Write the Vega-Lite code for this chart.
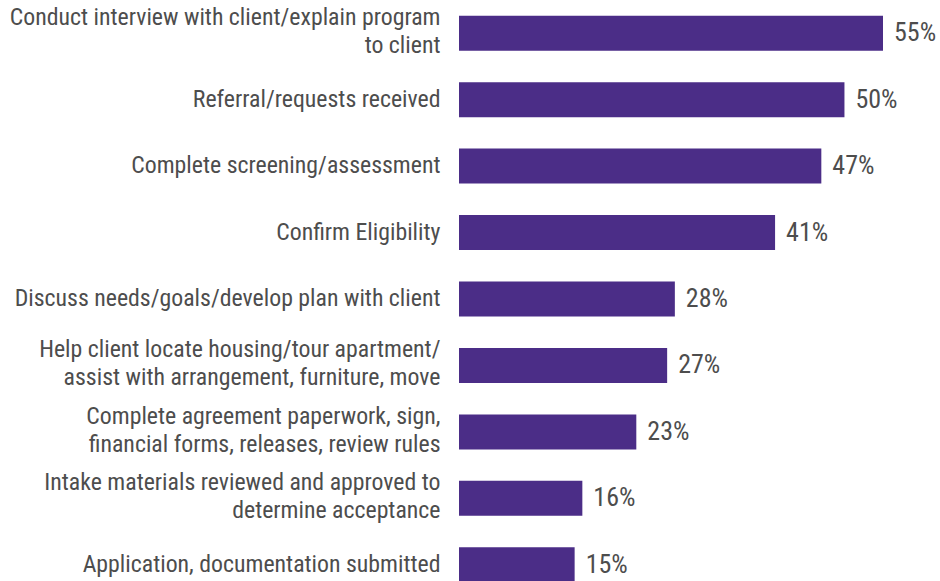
{
  "$schema": "https://vega.github.io/schema/vega-lite/v6.json",
  "width": 424,
  "height": 598,
  "autosize": {"type": "none"},
  "padding": {"left": 459, "top": 0, "right": 57, "bottom": 0},
  "background": "white",
  "data": {
    "values": [
      {"task": "Conduct interview with client/explain program\nto client", "pct": 0.55},
      {"task": "Referral/requests received", "pct": 0.50},
      {"task": "Complete screening/assessment", "pct": 0.47},
      {"task": "Confirm Eligibility", "pct": 0.41},
      {"task": "Discuss needs/goals/develop plan with client", "pct": 0.28},
      {"task": "Help client locate housing/tour apartment/\nassist with arrangement, furniture, move", "pct": 0.27},
      {"task": "Complete agreement paperwork, sign,\nfinancial forms, releases, review rules", "pct": 0.23},
      {"task": "Intake materials reviewed and approved to\ndetermine acceptance", "pct": 0.16},
      {"task": "Application, documentation submitted", "pct": 0.15}
    ]
  },
  "encoding": {
    "y": {
      "field": "task",
      "type": "nominal",
      "sort": null,
      "scale": {"paddingInner": 0.473, "paddingOuter": 0.2365},
      "axis": {
        "title": null,
        "domain": false,
        "ticks": false,
        "labelPadding": 19,
        "labelFont": "Roboto Condensed, Liberation Sans Narrow, Arial Narrow, DejaVu Sans Condensed, Roboto",
        "labelFontSize": 23.8,
        "labelColor": "#4d4d4d",
        "labelExpr": "split(datum.value, '\\n')",
        "labelLineHeight": 28,
        "labelLimit": 0,
        "labelOffset": {"condition": {"test": "indexof(datum.value, '\\n') >= 0", "value": -15}, "value": 0}
      }
    },
    "x": {
      "field": "pct",
      "type": "quantitative",
      "scale": {"domain": [0, 0.55]},
      "axis": null
    }
  },
  "layer": [
    {"mark": {"type": "bar", "color": "#4B2D87"}},
    {
      "mark": {
        "type": "text",
        "align": "left",
        "baseline": "middle",
        "dx": 11,
        "font": "Roboto Condensed, Liberation Sans Narrow, Arial Narrow, DejaVu Sans Condensed, Roboto",
        "fontSize": 26,
        "color": "#4d4d4d"
      },
      "encoding": {"text": {"field": "pct", "type": "quantitative", "format": ".0%"}}
    }
  ],
  "config": {"view": {"stroke": null}}
}
